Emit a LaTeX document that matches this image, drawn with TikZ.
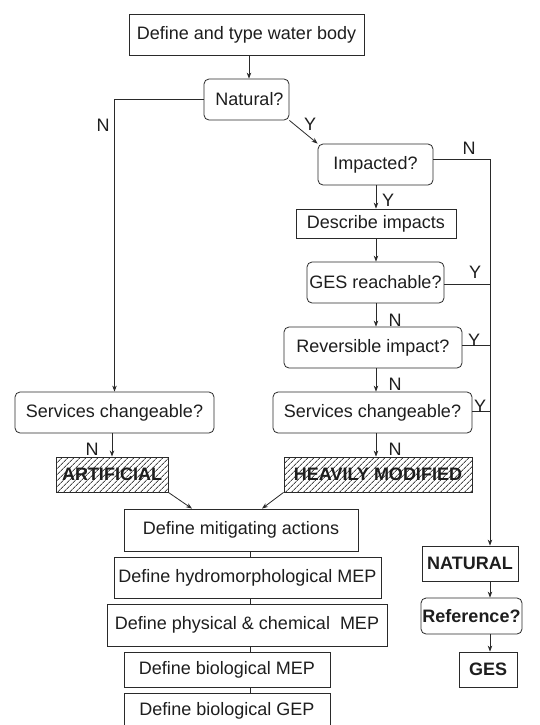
\documentclass[tikz,border=0pt]{standalone}
\usepackage{fontspec}
\setmainfont{Liberation Sans}
\usepackage{xcolor}
\usepackage{tikz}
\usetikzlibrary{positioning,arrows.meta,patterns.meta}
\definecolor{WBLine}{HTML}{2A2A2A}
\definecolor{WBText}{HTML}{1E1E1E}
\definecolor{WBHatch}{HTML}{4A4A4A}
\tikzset{
  wbbox/.style={draw=WBLine, line width=0.8pt, fill=white, text=WBText, align=center, inner sep=0pt},
  wbask/.style={wbbox, rounded corners=5pt},
  wbhatch/.style={wbbox, pattern={Lines[angle=45,distance=4pt,line width=0.9pt]}, pattern color=WBHatch, font=\fontsize{18}{21}\selectfont\bfseries},
  wbend/.style={wbbox, font=\fontsize{18}{21}\selectfont\bfseries},
  wbarrow/.style={draw=WBLine, line width=0.8pt, -{Stealth[length=6pt,width=4.5pt]}},
  wbline/.style={draw=WBLine, line width=0.8pt},
  wblabel/.style={text=WBText, inner sep=0pt}
}

\begin{document}
\begin{tikzpicture}[x=1pt, y=-1pt, font=\fontsize{18}{21}\selectfont]
  \useasboundingbox[fill=white] (0,0) rectangle (540,725);

  \node[wbbox, minimum width=235pt, minimum height=41pt] (water) at (246.5,34.5) {Define and type water body};
  \node[wbask, minimum width=85pt, minimum height=41pt] (natural) at (246.5,99.5) {\hspace*{6pt}Natural?};
  \node[wbask, minimum width=115pt, minimum height=41pt] (impacted) at (375.5,164.5) {Impacted?};
  \node[wbbox, minimum width=160pt, minimum height=29pt] (describe) at (376,223.5) {Describe impacts};
  \node[wbask, minimum width=137pt, minimum height=41pt] (reachable) at (375.5,282.5) {GES reachable?};
  \node[wbask, minimum width=178pt, minimum height=41pt] (reversible) at (373,347.5) {Reversible impact?};
  \node[wbask, minimum width=199pt, minimum height=41pt] (servright) at (372.5,412.5) {Services changeable?};
  \node[wbask, minimum width=199pt, minimum height=41pt] (servleft) at (114.5,412.5) {Services changeable?};

  \node[wbhatch, minimum width=112pt, minimum height=35pt] (artificial) at (112,474.5) {ARTIFICIAL};
  \node[wbhatch, minimum width=188pt, minimum height=35pt] (heavily) at (378,474.5) {HEAVILY MODIFIED};

  \node[wbbox, minimum width=234pt, minimum height=42pt] (mitigate) at (241,530) {Define mitigating actions};
  \node[wbbox, minimum width=267pt, minimum height=41pt] (hydro) at (247.5,577.5) {Define hydromorphological MEP};
  \node[wbbox, minimum width=280pt, minimum height=42pt] (physchem) at (247,625) {Define physical \& chemical\ \ MEP};
  \node[wbbox, minimum width=206pt, minimum height=35pt] (bioMEP) at (227,669.5) {Define biological MEP};
  \node[wbbox, minimum width=206pt, minimum height=35pt] (bioGEP) at (227,710.5) {Define biological GEP};

  \node[wbend, minimum width=96pt, minimum height=35pt] (natstate) at (470,563.5) {NATURAL};
  \node[wbend, rounded corners=5pt, minimum width=101pt, minimum height=36pt] (reference) at (471.5,616) {Reference?};
  \node[wbend, minimum width=58pt, minimum height=35pt] (ges) at (488,669.5) {GES};

  \coordinate (rail) at (490,159);
  \coordinate (spine) at (250,0);
  \coordinate (column) at (376,0);

  \draw[wbarrow] (water.south -| 249,0) -- (natural.north -| 249,0);
  \draw[wbarrow] (natural.west) -| (servleft.north);
  \draw[wbarrow] (natural.south east) -- (impacted.north west);
  \draw[wbline] (impacted.east |- rail) -- (rail);
  \draw[wbarrow] (rail) -- (rail |- natstate.north);
  \draw[wbarrow] (impacted.south -| column) -- (describe.north -| column);
  \draw[wbarrow] (describe.south -| column) -- (reachable.north -| column);
  \draw[wbarrow] (reachable.south -| column) -- (reversible.north -| column);
  \draw[wbarrow] (reversible.south -| column) -- (servright.north -| column);
  \draw[wbarrow] (servright.south -| column) -- (heavily.north -| column);
  \draw[wbline] ([yshift=-2pt]reachable.east) -- ([yshift=-2pt]reachable.east -| rail);
  \draw[wbline] ([yshift=2pt]reversible.east) -- ([yshift=2pt]reversible.east -| rail);
  \draw[wbline] ([yshift=1.5pt]servright.east) -- ([yshift=1.5pt]servright.east -| rail);
  \draw[wbarrow] (servleft.south -| artificial.north) -- (artificial.north);
  \draw[wbarrow] (artificial.south east) -- ([xshift=-49pt]mitigate.north);
  \draw[wbarrow] (heavily.south west) -- ([xshift=21pt]mitigate.north);
  \draw[wbline] (mitigate.south -| spine) -- (hydro.north -| spine);
  \draw[wbline] (hydro.south -| spine) -- (physchem.north -| spine);
  \draw[wbline] (physchem.south -| spine) -- (bioMEP.north -| spine);
  \draw[wbline] (bioMEP.south -| spine) -- (bioGEP.north -| spine);
  \draw[wbarrow] (natstate.south -| rail) -- (reference.north -| rail);
  \draw[wbarrow] (reference.south -| rail) -- (ges.north -| rail);

  \node[wblabel] (nnatural) at (103,125) {N};
  \node[wblabel] (ynatural) at (310,124) {Y};
  \node[wblabel] (nimpacted) at (469,148) {N};
  \node[wblabel] (yimpacted) at (388,200) {Y};
  \node[wblabel] (yreachable) at (475,272) {Y};
  \node[wblabel] (nreachable) at (395,320) {N};
  \node[wblabel] (yreversible) at (474,340) {Y};
  \node[wblabel] (nreversible) at (395,384) {N};
  \node[wblabel] (yservright) at (480,406) {Y};
  \node[wblabel] (nservright) at (395,449) {N};
  \node[wblabel] (nservleft) at (92,449) {N};
\end{tikzpicture}
\end{document}
